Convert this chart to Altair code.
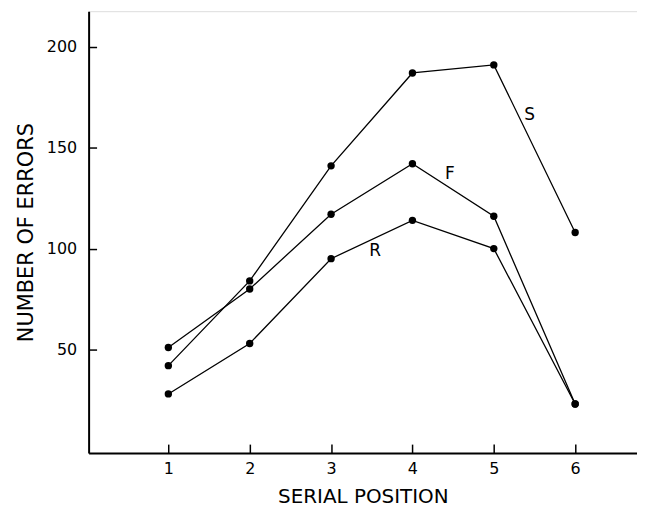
import altair as alt
import pandas as pd

positions = [1, 2, 3, 4, 5, 6]
s_vals = [42, 84, 141, 187, 191, 108]
f_vals = [51, 80, 117, 142, 116, 23]
r_vals = [28, 53, 95, 114, 100, 23]

label_names = ["S", "F", "R"]
label_x = [5.44, 4.46, 3.54]
label_y = [166, 137, 99]

x_ticks = [1, 2, 3, 4, 5, 6]
y_ticks = [50, 100, 150, 200]

X_DOM = [0.02, 6.76]
Y_DOM = [-1.3, 217.6]
W, H = 551, 444

rows = []
for name, vals in (("S", s_vals), ("F", f_vals), ("R", r_vals)):
    for p, v in zip(positions, vals):
        rows.append({"series": name, "pos": p, "errors": v})
df = pd.DataFrame(rows)

lab = pd.DataFrame({"name": label_names, "x": label_x, "y": label_y})

FONT = "DejaVu Sans"

xscale = alt.Scale(domain=X_DOM, nice=False, zero=False)
yscale = alt.Scale(domain=Y_DOM, nice=False, zero=False)

xaxis = alt.Axis(values=x_ticks, format="d", ticks=False, grid=False, domainColor="black",
                 domainWidth=2, labelFont=FONT, labelFontSize=16, labelColor="black",
                 labelPadding=8, title="SERIAL POSITION", titleFont=FONT,
                 titleFontSize=20, titleFontWeight="normal", titleColor="black",
                 titlePadding=10)
yaxis = alt.Axis(values=y_ticks, format="d", ticks=False, grid=False, domainColor="black",
                 domainWidth=2, labelFont=FONT, labelFontSize=16, labelColor="black",
                 labelPadding=12, title="NUMBER OF ERRORS", titleFont=FONT,
                 titleFontSize=21, titleFontWeight="normal", titleColor="black",
                 titlePadding=10)

# inward-pointing tick marks: secondary axes moved onto the main axis lines
xtick_axis = alt.Axis(orient="top", offset=-H, values=x_ticks, labels=False, domain=False,
                      ticks=True, tickSize=9, tickWidth=1.5, tickColor="black",
                      grid=False, title=None)
ytick_axis = alt.Axis(orient="right", offset=-W, values=y_ticks, labels=False, domain=False,
                      ticks=True, tickSize=8, tickWidth=1.5, tickColor="black",
                      grid=False, title=None)

base = alt.Chart(df)
lines = base.mark_line(color="black", strokeWidth=1.3).encode(
    x=alt.X("pos:Q", scale=xscale, axis=xaxis),
    y=alt.Y("errors:Q", scale=yscale, axis=yaxis),
    detail="series:N",
)
points = base.mark_circle(color="black", size=55, opacity=1).encode(
    x=alt.X("pos:Q", scale=xscale, axis=None),
    y=alt.Y("errors:Q", scale=yscale, axis=None),
)
labels = alt.Chart(lab).mark_text(font=FONT, fontSize=17, color="black").encode(
    x=alt.X("x:Q", scale=xscale, axis=xtick_axis),
    y=alt.Y("y:Q", scale=yscale, axis=ytick_axis),
    text="name:N",
)

chart = alt.layer(lines, points, labels).resolve_axis(
    x="independent", y="independent"
).properties(
    width=W, height=H,
    padding={"left": 81, "top": 2, "right": 0, "bottom": 58},
    autosize=alt.AutoSizeParams(type="none"),
).configure_view(stroke=None).configure(background="white")

chart.save("out.html", embed_options={"renderer": "svg", "actions": False})
